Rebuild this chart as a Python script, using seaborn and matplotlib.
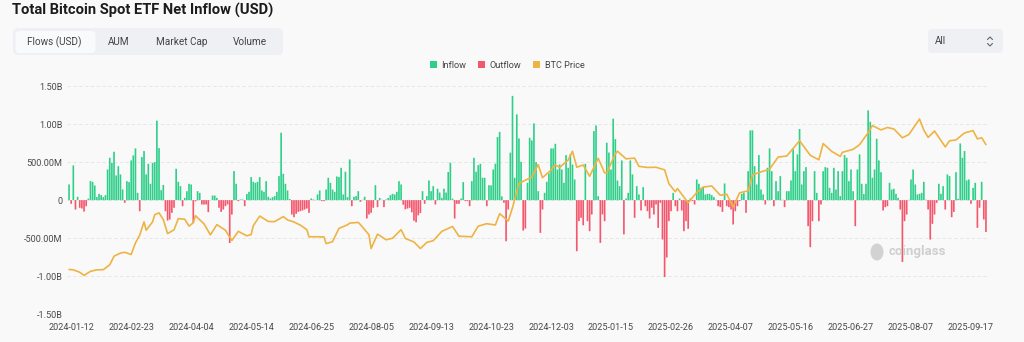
import numpy as np
import pandas as pd
import matplotlib
matplotlib.use("Agg")
import matplotlib.pyplot as plt
from matplotlib.patches import FancyBboxPatch, Patch, Ellipse
from matplotlib.lines import Line2D
from matplotlib.transforms import IdentityTransform
import seaborn as sns

# ---------------- data ----------------
start_date = "2024-01-11"
end_date = "2025-09-26"
market_holidays = ["2024-01-15", "2024-02-19", "2024-03-29", "2024-05-27", "2024-06-19",
                   "2024-07-04", "2024-09-02", "2024-11-28", "2024-12-25", "2025-01-01",
                   "2025-01-09", "2025-01-20", "2025-02-17", "2025-04-18", "2025-05-26",
                   "2025-06-19", "2025-07-04", "2025-09-01"]

# daily net flow, million USD (one per trading day)
net_flow_musd = [
    206, -48, 456, -123, 44, -100, -110, -150, -80, 20,
    250, 240, 193, 40, 83, 66, 40, 66, 403, 557,
    491, 636, 325, 447, 338, 140, -35, 250, 237, 522,
    588, 680, 96, -145, 566, 645, 338, 478, 215, 490,
    500, 1045, 684, 132, 200, -145, -268, -255, -167, -100,
    412, 241, 184, -80, 30, 118, 215, 206, -298, -15,
    118, 96, -57, -57, -57, -158, 3, 61, 61, 30,
    -100, -154, -123, -79, -57, -563, -190, 382, 215, -13,
    9, 9, -79, 80, 110, 303, 241, 228, 241, 303,
    127, 110, 250, 44, 22, 40, 53, 110, 316, 886,
    347, 215, 127, 15, -189, -224, -180, -154, -145, -136,
    -123, -110, -167, 22, 9, 3, 75, 127, -13, -13,
    140, 294, 228, 140, 110, 311, 303, 425, 75, 373,
    40, 535, -79, 44, 53, 118, -22, 5, 44, -241,
    -189, -167, -100, 197, -92, 30, 5, -92, 9, 30,
    66, 83, 75, 110, 250, 206, -60, -120, -110, -100,
    -160, -270, -290, -200, -170, 118, -48, 53, 259, 118,
    184, -57, 150, 100, 30, 150, 100, 370, 491, 20,
    -241, -48, -48, 22, 237, -13, -13, -79, 250, 557,
    373, 460, 478, 294, 294, -79, 197, 193, 403, 478,
    829, 897, 50, -35, -540, -123, 624, 1370, 294, 1127,
    811, 504, -400, -373, 228, 820, 785, 1009, 500, 118,
    -430, -123, 96, 241, 351, 680, 680, 741, 403, 469,
    403, 228, 592, 425, 605, 469, 272, -671, -276, -232,
    -330, 478, -276, -408, -189, 908, 982, 52, -562, -189,
    -276, 754, 626, 403, 1070, 802, 258, 184, 522, -450,
    22, 96, 522, 338, -232, 184, 75, -136, 171, -79,
    -145, -241, -100, -189, -57, -364, -35, -517, -1010, -754,
    -276, -145, 96, -79, -145, 22, -136, -408, -276, -377,
    22, -13, -57, 272, 215, 162, 171, 75, 83, 83,
    66, 40, 5, -79, -92, -154, 219, -79, -92, -123,
    -320, -145, -79, -13, 83, 96, -167, 381, 917, 917,
    447, 206, 592, 140, 75, -57, 425, 680, 381, -79,
    250, 118, 316, 5, -92, 118, 118, 259, 670, 381,
    601, 935, 206, 381, 434, -342, -618, -276, 381, 96,
    -276, -57, 381, 434, 425, 162, 96, 425, 140, 381,
    53, 381, 592, 557, 250, 403, 118, -342, 403, 601,
    215, 80, 215, 1180, 1030, 294, 403, 807, 522, 368,
    -136, -92, -79, 228, 140, 149, 83, 30, -123, -812,
    -276, -189, 5, 272, 403, 206, 75, 83, 96, 241,
    5, -123, -518, -311, -189, -35, 215, 83, 184, -123,
    338, 316, -224, -154, 368, 18, 745, 557, 645, 259,
    272, -48, 162, 228, -364, -100, 241, -254, -418,
]

price_dates = [
    "2024-01-11", "2024-01-16", "2024-01-19", "2024-01-23", "2024-01-26", "2024-01-31",
    "2024-02-05", "2024-02-08", "2024-02-12", "2024-02-15", "2024-02-20", "2024-02-23",
    "2024-02-27", "2024-02-29", "2024-03-04", "2024-03-05", "2024-03-08", "2024-03-11",
    "2024-03-13", "2024-03-15", "2024-03-19", "2024-03-22", "2024-03-26", "2024-04-01",
    "2024-04-03", "2024-04-05", "2024-04-08", "2024-04-12", "2024-04-17", "2024-04-22",
    "2024-04-26", "2024-05-01", "2024-05-06", "2024-05-10", "2024-05-14", "2024-05-15",
    "2024-05-20", "2024-05-24", "2024-05-30", "2024-06-05", "2024-06-07", "2024-06-12",
    "2024-06-17", "2024-06-21", "2024-06-24", "2024-06-28", "2024-07-03", "2024-07-05",
    "2024-07-10", "2024-07-15", "2024-07-19", "2024-07-22", "2024-07-26", "2024-07-29",
    "2024-08-02", "2024-08-05", "2024-08-08", "2024-08-14", "2024-08-19", "2024-08-23",
    "2024-08-27", "2024-09-03", "2024-09-06", "2024-09-11", "2024-09-16", "2024-09-20",
    "2024-09-27", "2024-10-02", "2024-10-10", "2024-10-15", "2024-10-21", "2024-10-25",
    "2024-10-29", "2024-11-04", "2024-11-06", "2024-11-11", "2024-11-13", "2024-11-19",
    "2024-11-22", "2024-11-26", "2024-12-03", "2024-12-05", "2024-12-09", "2024-12-13",
    "2024-12-17", "2024-12-19", "2024-12-24", "2024-12-30", "2025-01-06", "2025-01-10",
    "2025-01-13", "2025-01-17", "2025-01-21", "2025-01-27", "2025-01-31", "2025-02-04",
    "2025-02-10", "2025-02-14", "2025-02-21", "2025-02-25", "2025-02-28", "2025-03-03",
    "2025-03-10", "2025-03-14", "2025-03-19", "2025-03-25", "2025-03-31", "2025-04-03",
    "2025-04-08", "2025-04-11", "2025-04-17", "2025-04-22", "2025-04-28", "2025-05-02",
    "2025-05-08", "2025-05-14", "2025-05-22", "2025-05-30", "2025-06-05", "2025-06-09",
    "2025-06-13", "2025-06-20", "2025-06-23", "2025-06-30", "2025-07-03", "2025-07-10",
    "2025-07-14", "2025-07-18", "2025-07-23", "2025-07-28", "2025-08-01", "2025-08-06",
    "2025-08-13", "2025-08-15", "2025-08-19", "2025-08-22", "2025-08-29", "2025-09-03",
    "2025-09-08", "2025-09-12", "2025-09-18", "2025-09-22", "2025-09-24", "2025-09-26",
]
price_kusd = [
    42.8, 42.6, 41.3, 39.6, 41.8, 42.6,
    42.7, 45.3, 49.9, 51.6, 52.0, 50.8,
    57.0, 61.2, 68.3, 63.8, 68.3, 72.1,
    73.1, 69.5, 62.0, 64.0, 70.0, 69.7,
    66.0, 67.8, 71.6, 67.2, 61.3, 66.8,
    63.8, 58.3, 63.2, 60.8, 61.5, 66.2,
    71.4, 68.5, 68.4, 71.1, 69.3, 68.2,
    66.5, 64.1, 60.3, 60.3, 60.2, 56.6,
    57.7, 64.8, 66.7, 67.6, 68.0, 66.8,
    61.4, 54.0, 61.7, 58.7, 59.5, 64.1,
    59.4, 57.5, 54.0, 57.3, 58.2, 63.2,
    65.8, 60.6, 60.3, 66.0, 67.3, 66.6,
    72.7, 68.7, 75.9, 88.7, 90.0, 92.3,
    98.9, 91.9, 96.0, 98.8, 97.4, 101.4,
    106.1, 97.5, 98.7, 92.7, 102.3, 94.5,
    94.5, 104.6, 106.1, 102.0, 102.4, 98.0,
    97.4, 97.5, 96.1, 88.7, 84.4, 86.1,
    78.5, 84.0, 86.9, 87.5, 82.5, 83.1,
    76.3, 83.8, 84.9, 93.5, 95.0, 96.5,
    103.0, 103.5, 111.7, 103.9, 101.5, 110.2,
    106.0, 103.3, 105.5, 107.1, 109.6, 116.0,
    119.8, 117.5, 118.8, 118.0, 113.3, 115.0,
    123.3, 117.4, 113.5, 116.9, 108.4, 111.7,
    112.1, 115.9, 117.1, 112.7, 113.3, 109.6,
]

tick_labels = ["2024-01-12", "2024-02-23", "2024-04-04", "2024-05-14", "2024-06-25",
               "2024-08-05", "2024-09-13", "2024-10-23", "2024-12-03", "2025-01-15",
               "2025-02-26", "2025-04-07", "2025-05-16", "2025-06-27", "2025-08-07",
               "2025-09-17"]
y_ticks_b = [1.5, 1.0, 0.5, 0.0, -0.5, -1.0, -1.5]
y_tick_labels = ["1.50B", "1.00B", "500.00M", "0", "-500.00M", "-1.00B", "-1.50B"]
tabs = ["Flows (USD)", "AUM", "Market Cap", "Volume"]
series_names = ["Inflow", "Outflow", "BTC Price"]

# ---------------- style ----------------
BG = "#f9f9f9"
GREEN = "#2fcf8a"
RED = "#f4566c"
GOLD = "#eeb443"
TXT = "#4a4a4a"

sns.set_theme(style="white")
plt.rcParams["font.family"] = ["Roboto", "DejaVu Sans"]

W, H = 1024, 342
fig = plt.figure(figsize=(W / 100, H / 100), dpi=100, facecolor=BG)

def disp(px, py):
    return px, H - py

ax = fig.add_axes([66.9 / W, 1 - 314.3 / H, (988.1 - 66.9) / W, (314.3 - 86.0) / H])
ax.set_facecolor(BG)

days = pd.bdate_range(start_date, end_date)
days = days[~days.isin(pd.to_datetime(market_holidays))]
n = min(len(days), len(net_flow_musd))
days = days[:n]
flows = np.array(net_flow_musd[:n], dtype=float) * 1e6
df = pd.DataFrame({"pos": np.arange(n), "flow": flows,
                   "kind": np.where(flows >= 0, "Inflow", "Outflow")})

sns.barplot(data=df, x="pos", y="flow", hue="kind", native_scale=True,
            palette={"Inflow": GREEN, "Outflow": RED}, dodge=False, width=0.78,
            errorbar=None, legend=False, saturation=1, linewidth=0,
            edgecolor="none", ax=ax)
for p in ax.patches:
    p.set_edgecolor("none")
    p.set_linewidth(0)
    p.set_snap(False)
    p.set_antialiased(True)

ax.set_xlim(-1, n)
ax.set_ylim(-1.5e9, 1.5e9)
ax.set_yticks([v * 1e9 for v in y_ticks_b])
ax.set_yticklabels(y_tick_labels)
tick_pos = days.searchsorted(pd.to_datetime(tick_labels))
ax.set_xticks(tick_pos)
ax.set_xticklabels(tick_labels)
ax.tick_params(axis="both", length=0, labelsize=6.6, colors=TXT, pad=3)
ax.tick_params(axis="x", pad=6)
ax.set_xlabel("")
ax.set_ylabel("")
for s in ax.spines.values():
    s.set_visible(False)
ax.yaxis.grid(True, color="#e3e3e3", linewidth=0.6, linestyle=(0, (4, 3)))
ax.xaxis.grid(False)
ax.set_axisbelow(True)

# BTC price on a hidden secondary axis
ax2 = ax.twinx()
ppos = days.searchsorted(pd.to_datetime(price_dates))
sns.lineplot(x=ppos, y=np.array(price_kusd) * 1000, color=GOLD, linewidth=1.2, ax=ax2)
ax2.set_ylim(18800, 141000)
ax2.set_xlim(-1, n)
ax2.set_axis_off()

# ---------------- header widgets ----------------
fig.text(12 / W, 1 - 10.5 / H, "Total Bitcoin Spot ETF Net Inflow (USD)",
         fontsize=10.6, fontweight="bold", color="#1c1c1c", va="center", ha="left")

tr = IdentityTransform()
x0, y0 = disp(13, 55)
fig.patches.append(FancyBboxPatch((x0, y0), 270, 27, boxstyle="round,pad=0,rounding_size=5",
                                  transform=tr, facecolor="#eef0f3", edgecolor="none"))
x0, y0 = disp(15.5, 53)
fig.patches.append(FancyBboxPatch((x0, y0), 80, 22, boxstyle="round,pad=0,rounding_size=4",
                                  transform=tr, facecolor="#f9fafb", edgecolor="none"))
for label, cx in zip(tabs, [54.7, 119, 181.7, 250]):
    fig.text(cx / W, 1 - 41.8 / H, label, fontsize=7.2, color="#444444",
             ha="center", va="center")

x0, y0 = disp(928, 53)
fig.patches.append(FancyBboxPatch((x0, y0), 75, 24, boxstyle="round,pad=0,rounding_size=4",
                                  transform=tr, facecolor="#eef0f3", edgecolor="none"))
fig.text(935 / W, 1 - 41.5 / H, "All", fontsize=7.2, color="#444444", ha="left", va="center")
for pts in ([(987.5, 39.5), (990, 37), (992.5, 39.5)], [(987.5, 43.5), (990, 46), (992.5, 43.5)]):
    xs = [p[0] for p in pts]
    ys = [H - p[1] for p in pts]
    fig.lines.append(Line2D(xs, ys, transform=tr, color="#666666", linewidth=0.8))

# legend
handles = [Patch(facecolor=c, edgecolor="none") for c in (GREEN, RED, GOLD)]
fig.legend(handles, series_names, loc="center", bbox_to_anchor=(507 / W, 1 - 65.5 / H),
           ncol=3, frameon=False, fontsize=6.6, handlelength=0.75, handleheight=0.75,
           handletextpad=0.5, columnspacing=1.3, labelcolor="#444444")

# watermark
ex, ey = disp(877, 252)
fig.patches.append(Ellipse((ex, ey), 13, 17, transform=tr, facecolor="#d2d2d2", edgecolor="none"))
fig.text(889 / W, 1 - 252 / H, "coinglass", fontsize=9.5, fontweight="bold",
         color="#cfcfcf", ha="left", va="center")

fig.savefig("out.png", dpi=100, facecolor=BG)
